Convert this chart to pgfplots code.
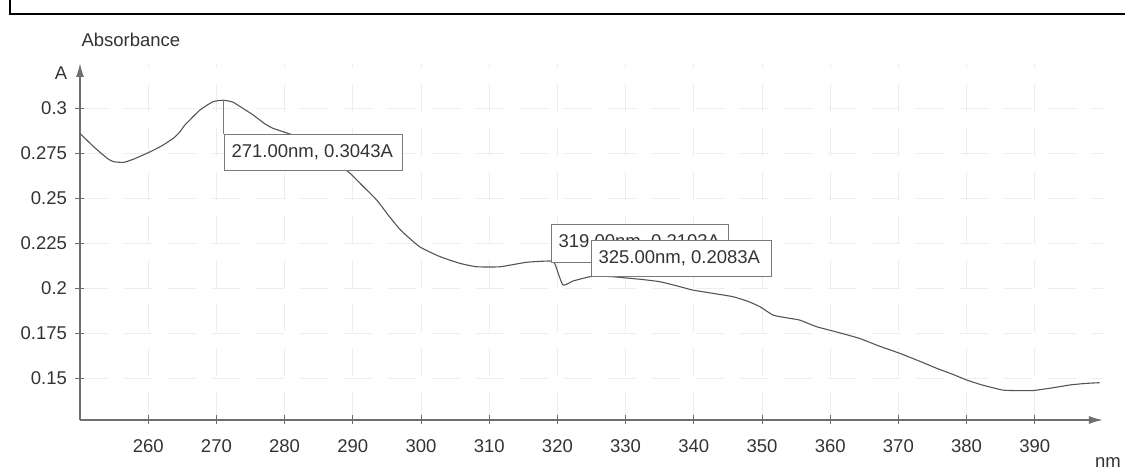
\documentclass[border=0pt]{standalone}
\usepackage{fontspec}
\setmainfont{Liberation Sans}
\usepackage{pgfplots}
\pgfplotsset{compat=1.18}
\usetikzlibrary{arrows.meta}
\definecolor{txt}{HTML}{333333}
\definecolor{crv}{HTML}{555555}
\definecolor{axc}{HTML}{6E6E6E}
\definecolor{boxc}{HTML}{7A7A7A}
\begin{document}
\begin{tikzpicture}[font=\fontsize{18.5}{22}\selectfont]
\begin{axis}[
  scale only axis, width=1023pt, height=357pt,
  xmin=250, xmax=400, ymin=0.12667, ymax=0.325,
  axis lines=left,
  axis line style={axc, line width=1.6pt, -{Latex[length=14pt,width=8pt]}},
  xtick={260,270,...,390},
  ytick={0.15,0.175,0.2,0.225,0.25,0.275,0.3},
  yticklabels={0.15,0.175,0.2,0.225,0.25,0.275,0.3},
  /pgf/number format/assume math mode=true,
  tick align=center, major tick length=9pt,
  tick style={axc, line width=0.8pt},
  ticklabel style={text=txt},
  xticklabel style={yshift=-12pt},
  yticklabel style={xshift=-5pt},
  grid=major,
  major grid style={gray!14, line width=0.6pt, dash pattern=on 28pt off 16pt},
  clip=false,
]
\addplot[crv, line width=1.1pt, smooth, tension=0.3] coordinates {
(250,0.2859) (252,0.2785) (254,0.2720) (254.9,0.2702) (256.4,0.2698)
(258,0.2718) (260.3,0.2757) (262,0.2790) (263.7,0.2832) (264.6,0.2865)
(265.4,0.2906) (267.6,0.2989) (269.5,0.3035) (271,0.3043) (272.4,0.3033)
(273.8,0.3000) (275.4,0.2961) (277,0.2915) (278.3,0.2887) (281.2,0.2850)
(283,0.2815) (285,0.2770) (287,0.2715) (289.6,0.2637) (291.5,0.2565)
(293.5,0.2489) (295.2,0.2405) (297,0.2322) (299.8,0.2229) (302.8,0.2174)
(305.7,0.2137) (308.2,0.2118) (311.6,0.2118) (315.5,0.2143) (318.9,0.2150)
(319.6,0.2137) (320.8,0.2017) (322.3,0.2039) (324.8,0.2063) (326.2,0.2066)
(328,0.2063) (330,0.2056) (332.5,0.2047) (335,0.2035) (337.5,0.2012)
(339.8,0.1989) (342.5,0.1972) (345.7,0.1952) (348,0.1925) (349.7,0.1896)
(351.6,0.1850) (353.5,0.1835) (355.5,0.1822) (358,0.1785) (361,0.1755)
(364.3,0.1720) (367,0.1680) (370.2,0.1637) (373,0.1595) (375.6,0.1554)
(378,0.1520) (380,0.1489) (382.3,0.1461) (385.3,0.1433) (387.5,0.1430)
(389.7,0.1430) (392.2,0.1443) (395.1,0.1461) (397.5,0.1470) (399.5,0.1474)
};
\draw[boxc, line width=0.8pt] (axis cs:271,0.3043) -- (axis cs:271,0.2858);
\coordinate (O) at (axis cs:250,0.12667);
\end{axis}
\pgfresetboundingbox
\begin{scope}[shift={(O)}, xshift=-80pt, yshift=-50pt, x=1pt, y=1pt]
\useasboundingbox (0,0) rectangle (1125,470);
% outer frame (cropped scan)
\draw[black, line width=1.8pt] (10,471) -- (10,456) -- (1126,456);
% axis titles
\node[text=txt, anchor=west] at (78,430) {Absorbance};
\node[text=txt] at (61,397) {A};
\node[text=txt] at (1108,7) {nm};
% value boxes
\draw[boxc, line width=0.8pt, fill=white] (224,300) rectangle (402,336);
\node[text=txt, anchor=west] at (228,318) {271.00nm, 0.3043A};
\draw[boxc, line width=0.8pt, fill=white] (551,208) rectangle (728,246);
\node[text=txt, anchor=west] at (555,228) {319.00nm, 0.2103A};
\draw[boxc, line width=0.8pt, fill=white] (591,194) rectangle (771,230);
\node[text=txt, anchor=west] at (595,212) {325.00nm, 0.2083A};
\end{scope}
\end{tikzpicture}
\end{document}
